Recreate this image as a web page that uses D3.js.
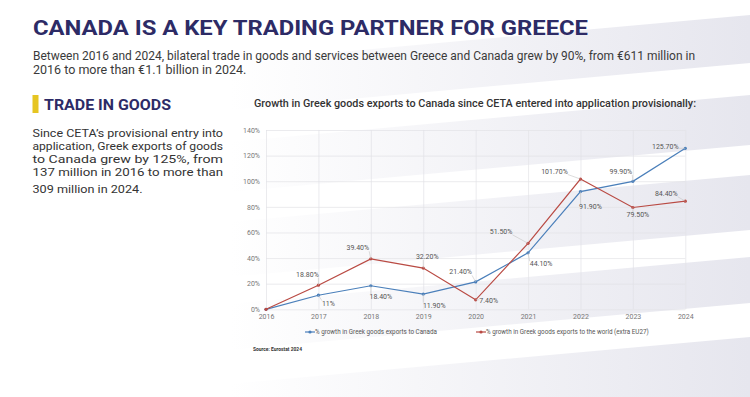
<!DOCTYPE html>
<html>
<head>
<meta charset="utf-8">
<script src="https://d3js.org/d3.v7.min.js"></script>
<style>
  body {margin: 0; background: #fff;}
  svg {display: block;}
  text {font-family: Roboto, "Open Sans", sans-serif;}
</style>
</head>
<body>
<div id="chart"></div>
<script>
// data
const years = [2016, 2017, 2018, 2019, 2020, 2021, 2022, 2023, 2024]
const canadaGrowth = [0, 11, 18.4, 11.9, 21.4, 44.1, 91.9, 99.9, 125.7]
const worldGrowth = [0, 18.8, 39.4, 32.2, 7.4, 51.5, 101.7, 79.5, 84.4]
const canadaLabels = ["", "11%", "18.40%", "11.90%", "21.40%", "44.10%", "91.90%", "99.90%", "125.70%"]
const worldLabels = ["", "18.80%", "39.40%", "32.20%", "7.40%", "51.50%", "101.70%", "79.50%", "84.40%"]
const yTicks = [0, 20, 40, 60, 80, 100, 120, 140]
const seriesNames = ["% growth in Greek goods exports to Canada",
                     "% growth in Greek goods exports to the world (extra EU27)"]

const title = "CANADA IS A KEY TRADING PARTNER FOR GREECE"
const subtitle = ["Between 2016 and 2024, bilateral trade in goods and services between Greece and Canada grew by 90%, from €611 million in",
                  "2016 to more than €1.1 billion in 2024."]
const sectionTitle = "TRADE IN GOODS"
const paragraph = ["Since CETA’s provisional entry into",
                   "application, Greek exports of goods",
                   "to Canada grew by 125%, from",
                   "137 million in 2016 to more than",
                   "309 million in 2024."]
const chartTitle = "Growth in Greek goods exports to Canada since CETA entered into application  provisionally:"
const source = "Source: Eurostat 2024"

// label placement (offset of label centre from its point)
const canadaOffsets = [null, [10, 8], [10, 11], [11, 11], [-15, -10], [13, 11], [10, 15], [-12, -10], [-20, -2]]
const worldOffsets = [null, [-11, -11], [-13, -11], [4, -11.5], [13, 0.5], [-27, -12], [-26, -8], [5, 7.5], [-19, -8]]

const w = 750, h = 397
const colors = ["#4a7fba", "#b94a43"]

const svg = d3.select("#chart").append("svg")
    .attr("width", w).attr("height", h)
    .attr("viewBox", "0 0 " + w + " " + h)

// background bands
const defs = svg.append("defs")
const grad = defs.append("linearGradient").attr("id", "bandGrad")
    .attr("gradientUnits", "userSpaceOnUse")
    .attr("x1", 230).attr("x2", 750).attr("y1", 0).attr("y2", 0)
grad.append("stop").attr("offset", 0).attr("stop-color", "#e6e6ee").attr("stop-opacity", 0)
grad.append("stop").attr("offset", 1).attr("stop-color", "#e6e6ee").attr("stop-opacity", 1)

const bands = [[15, 63], [95, 145], [175, 230], [257, 303], [337, 410]]
const slope = 0.09
svg.selectAll(".band").data(bands).enter().append("polygon")
    .attr("class", "band")
    .attr("points", d => [[230, d[0] + 520 * slope], [750, d[0]], [750, d[1]], [230, d[1] + 520 * slope]].join(" "))
    .style("fill", "url(#bandGrad)")

// headings
svg.append("text").attr("x", 33).attr("y", 35)
    .attr("textLength", 555).attr("lengthAdjust", "spacingAndGlyphs")
    .style("font-size", "21px").style("font-weight", "bold").style("fill", "#2d2b66")
    .text(title)

svg.selectAll(".sub").data(subtitle).enter().append("text")
    .attr("class", "sub")
    .attr("x", 33).attr("y", (d, i) => 60 + i * 13.5)
    .attr("textLength", (d, i) => i == 0 ? 662 : null)
    .attr("lengthAdjust", "spacingAndGlyphs")
    .style("font-size", "12.5px").style("fill", "#3a3a3a")
    .text(d => d)

svg.append("rect").attr("x", 32.5).attr("y", 95).attr("width", 6).attr("height", 18).style("fill", "#e6c522")
svg.append("text").attr("x", 44).attr("y", 110)
    .attr("textLength", 127).attr("lengthAdjust", "spacingAndGlyphs")
    .style("font-size", "15.5px").style("font-weight", "bold").style("fill", "#2d2b66")
    .text(sectionTitle)

svg.selectAll(".para").data(paragraph).enter().append("text")
    .attr("class", "para")
    .attr("x", 32.5).attr("y", (d, i) => i < 4 ? 136.7 + i * 13 : 192.5)
    .attr("textLength", (d, i) => i < 4 ? 190.5 : 110)
    .attr("lengthAdjust", "spacingAndGlyphs")
    .style("font-size", "11px").style("fill", "#333")
    .text(d => d)

svg.append("text").attr("x", 254).attr("y", 106.5)
    .attr("textLength", 442).attr("lengthAdjust", "spacingAndGlyphs")
    .style("font-size", "10.5px").style("font-weight", "500").style("fill", "#333")
    .text(chartTitle)

// chart
const x = d3.scalePoint().domain(years).range([266, 685.3])
const y = d3.scaleLinear().domain([0, 140]).range([309.3, 130])

const yAxis = svg.append("g").attr("transform", "translate(266,0)")
    .call(d3.axisLeft(y).tickValues(yTicks).tickFormat(d => d + "%").tickSize(-(685.3 - 266)).tickPadding(6))
yAxis.select(".domain").remove()
yAxis.selectAll("line").style("stroke", "#e2e2e6").style("stroke-width", 0.7)
yAxis.selectAll("text").style("font-size", "7px").style("fill", "#777").style("font-family", "Roboto, sans-serif")

const xAxis = svg.append("g").attr("transform", "translate(0,309.3)")
    .call(d3.axisBottom(x).tickSize(-(309.3 - 130)).tickPadding(5))
xAxis.select(".domain").remove()
xAxis.selectAll("line").style("stroke", "#e2e2e6").style("stroke-width", 0.7)
xAxis.selectAll("text").style("font-size", "7px").style("fill", "#777").style("font-family", "Roboto, sans-serif")

const line = d3.line().x((d, i) => x(years[i])).y(d => y(d))
const series = [
  {values: canadaGrowth, labels: canadaLabels, offsets: canadaOffsets, color: colors[0]},
  {values: worldGrowth, labels: worldLabels, offsets: worldOffsets, color: colors[1]}
]

series.forEach(s => {
  svg.append("path").datum(s.values)
      .attr("d", line)
      .style("fill", "none").style("stroke", s.color).style("stroke-width", 1.2)
  svg.selectAll(null).data(s.values).enter().append("circle")
      .attr("cx", (d, i) => x(years[i])).attr("cy", d => y(d)).attr("r", 1.6)
      .style("fill", s.color)
})

const leaderG = svg.append("g")
series.forEach(s => {
  s.values.forEach((v, i) => {
    if (!s.offsets[i]) return
    const px = x(years[i]), py = y(v)
    const t = svg.append("text")
        .attr("x", px + s.offsets[i][0]).attr("y", py + s.offsets[i][1])
        .attr("text-anchor", "middle").attr("dy", "0.35em")
        .style("font-size", "7px").style("fill", "#555")
        .text(s.labels[i])
    const b = t.node().getBBox()
    const nx = Math.max(b.x, Math.min(px, b.x + b.width))
    const ny = Math.max(b.y + 1, Math.min(py, b.y + b.height - 1))
    if (Math.hypot(nx - px, ny - py) > 3) {
      leaderG.append("line")
          .attr("x1", nx).attr("y1", ny).attr("x2", px).attr("y2", py)
          .style("stroke", "#c4c4c4").style("stroke-width", 0.6)
    }
  })
})

// legend
const legendX = [305, 476]
const legend = svg.selectAll(".legend").data(seriesNames).enter().append("g")
    .attr("class", "legend")
    .attr("transform", (d, i) => "translate(" + legendX[i] + ",332)")
legend.append("line").attr("x1", 0).attr("x2", 10)
    .style("stroke", (d, i) => colors[i]).style("stroke-width", 1.2)
legend.append("circle").attr("cx", 5).attr("r", 1.6).style("fill", (d, i) => colors[i])
legend.append("text").attr("x", 10).attr("dy", "0.35em")
    .style("font-size", "6.3px").style("fill", "#555")
    .text(d => d)

svg.append("text").attr("x", 253).attr("y", 350.5)
    .attr("textLength", 49).attr("lengthAdjust", "spacingAndGlyphs")
    .style("font-size", "5px").style("font-weight", "bold").style("fill", "#333")
    .text(source)
</script>
</body>
</html>
